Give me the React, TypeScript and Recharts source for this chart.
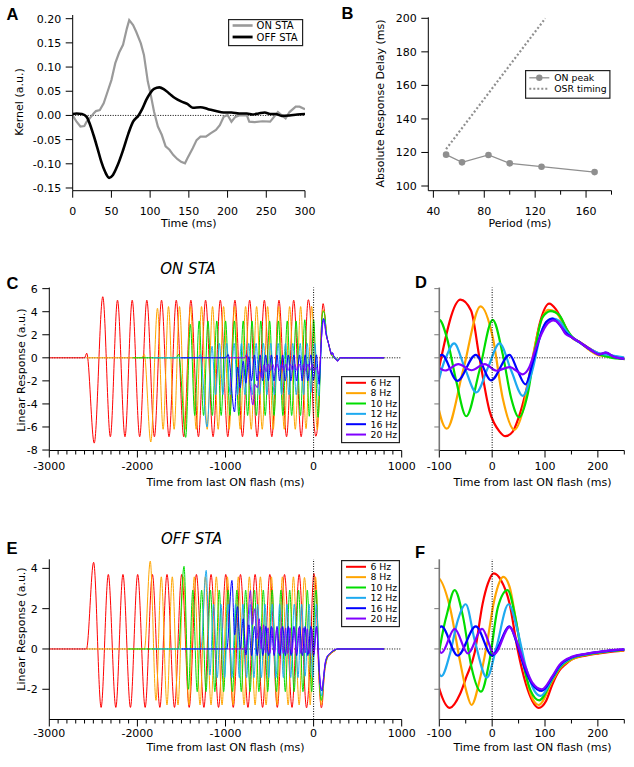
import React from 'react';
import { LineChart, Line, XAxis, YAxis, ReferenceLine, Legend } from 'recharts';

const W = 634;
const H = 767;
const FONT = '"DejaVu Sans", Verdana, sans-serif';

type P = [number, number];

// ---------- Panel A : kernels ----------
const aTimeTicks = [0, 50, 100, 150, 200, 250, 300];
const aKernelTicks = [-0.15, -0.1, -0.05, 0, 0.05, 0.1, 0.15, 0.2];
const onSTA: P[] = [
  [0, 0], [5, -0.013], [10, -0.023], [15, -0.022], [18, -0.013], [22, -0.006], [27, 0.004], [30, 0.009],
  [35, 0.011], [40, 0.025], [45, 0.049], [50, 0.073], [55, 0.108], [60, 0.13], [65, 0.146], [70, 0.18],
  [73, 0.197], [78, 0.187], [82, 0.173], [88, 0.149], [92, 0.125], [97, 0.07], [100, 0.049], [105, 0.008],
  [110, -0.023], [115, -0.04], [120, -0.064], [125, -0.071], [130, -0.082], [135, -0.09], [140, -0.096],
  [145, -0.099], [148, -0.089], [155, -0.068], [160, -0.051], [165, -0.044], [172, -0.044], [178, -0.037],
  [185, -0.03], [190, -0.02], [195, -0.003], [200, 0.001], [205, -0.013], [210, -0.003], [215, 0], [225, 0],
  [228, -0.013], [235, -0.014], [245, -0.012], [255, -0.013], [260, -0.003], [265, 0.007], [270, 0],
  [275, -0.006], [280, 0.007], [288, 0.018], [293, 0.018], [300, 0.013],
];
const offSTA: P[] = [
  [0, 0.003], [5, 0.004], [12, 0.003], [18, -0.003], [22, -0.017], [27, -0.041], [32, -0.068], [37, -0.096],
  [42, -0.117], [47, -0.129], [52, -0.123], [58, -0.103], [65, -0.072], [72, -0.037], [78, -0.013], [85, 0],
  [90, 0.014], [95, 0.032], [100, 0.046], [105, 0.055], [112, 0.058], [118, 0.054], [125, 0.045], [132, 0.036],
  [140, 0.029], [148, 0.024], [155, 0.016], [165, 0.017], [175, 0.013], [185, 0.009], [195, 0.006],
  [205, 0.006], [215, 0.004], [225, 0.004], [232, 0.002], [240, 0.004], [248, 0.006], [255, 0.003],
  [262, 0.003], [270, -0.001], [280, 0], [290, 0.002], [300, 0.003],
];

// ---------- Panel B : delays ----------
const bPeriodMajor = [40, 80, 120, 160];
const bPeriodTicks = [40, 60, 80, 100, 120, 140, 160, 180];
const bDelayTicks = [100, 120, 140, 160, 180, 200];
const onPeak: P[] = [[50, 118.7], [62.5, 114.1], [83.3, 118.5], [100, 113.5], [125, 111.5], [166.7, 108.3]];
const osrTiming: P[] = [[50, 122], [128, 200]];

// ---------- Panels C-F ----------
const freqLabels = ['6 Hz', '8 Hz', '10 Hz', '12 Hz', '16 Hz', '20 Hz'];
const freqColors = ['#ff0000', '#ffa500', '#00dd00', '#1eaaf0', '#0000ff', '#8000ff'];
const longMajor = [-3000, -2000, -1000, 0, 1000];
const longTicks = Array.from({ length: 41 }, (_, i) => -3000 + i * 100);
const shortMajor = [-100, 0, 100, 200];
const shortTicks = [-100, -50, 0, 50, 100, 150, 200, 250];
const onYTicks = [-8, -6, -4, -2, 0, 2, 4, 6];
const offYTicks = [-2, 0, 2, 4];

const on6: P[] = [
  [-3000, 0], [-2600, 0], [-2575, 0.4], [-2490, -7.4], [-2393, 5.3], [-2307, -6.85], [-2226, 5.0], [-2141, -6.85],
  [-2059, 5.0], [-1974, -6.85], [-1893, 5.0], [-1807, -6.85], [-1726, 5.0], [-1641, -6.85], [-1559, 5.0],
  [-1474, -6.85], [-1393, 5.0], [-1307, -6.85], [-1226, 5.0], [-1141, -6.85], [-1059, 5.0], [-974, -6.85],
  [-893, 5.0], [-807, -6.85], [-726, 5.0], [-641, -6.85], [-559, 5.0], [-474, -6.85], [-393, 5.0], [-307, -6.85],
  [-226, 5.0], [-141, -6.85], [-60, 5.04], [-40, 4.1], [-24, 0], [-5, -4.6], [14, -6.4], [25, -6.8], [39, -6.4],
  [50, -5.2], [64, -2.9], [76, -0.3], [89, 2.8], [108, 4.7], [120, 4.25], [133, 3.2], [150, 1.8], [167, 1.34],
  [186, 0.76], [202, 0.38], [227, 0.17], [248, 0], [275, -0.2], [300, 0], [800, 0],
];
const on8: P[] = [
  [-2580, 0], [-1950, 0], [-1922, 0.3], [-1848, -7.3], [-1772, 4.3], [-1708, -6.2], [-1647, 4.45], [-1583, -6.2],
  [-1522, 4.45], [-1458, -6.2], [-1397, 4.45], [-1333, -6.2], [-1272, 4.45], [-1208, -6.2], [-1147, 4.45],
  [-1083, -6.2], [-1022, 4.45], [-958, -6.2], [-897, 4.45], [-833, -6.2], [-772, 4.45], [-708, -6.2], [-647, 4.45],
  [-583, -6.2], [-522, 4.45], [-458, -6.2], [-397, 4.45], [-333, -6.2], [-272, 4.45], [-208, -6.2], [-147, 4.45],
  [-86, -6.15], [-55, -1.1], [-22, 4.46], [1, 1.8], [20, -3.5], [42, -6.24], [58, -4.6], [73, -0.85], [89, 2.65],
  [106, 4.17], [120, 3.97], [133, 3.1], [150, 1.8], [167, 1.3], [186, 0.6], [202, 0.2], [227, 0.1], [248, -0.1],
  [275, -0.2], [300, 0], [800, 0],
];
const on10: P[] = [
  [-2050, 0], [-1560, 0], [-1532, 0.3], [-1452, -6.9], [-1399, 2.9], [-1349, -5.0], [-1299, 3.2], [-1249, -5.0],
  [-1199, 3.2], [-1149, -5.0], [-1099, 3.2], [-1049, -5.0], [-999, 3.2], [-949, -5.0], [-899, 3.2], [-849, -5.0],
  [-799, 3.2], [-749, -5.0], [-699, 3.2], [-649, -5.0], [-599, 3.2], [-549, -5.0], [-499, 3.2], [-449, -5.0],
  [-399, 3.2], [-349, -5.0], [-299, 3.2], [-249, -5.0], [-199, 3.2], [-149, -5.0], [-100, 3.3], [-86, 1.8],
  [-68, -2.0], [-49, -5.07], [-24, -1.1], [1, 3.3], [20, 0.3], [36, -3.5], [51, -5.16], [67, -3.2], [83, 1.2],
  [95, 3.5], [111, 4.05], [127, 3.7], [142, 2.4], [150, 1.9], [167, 1.3], [186, 0.7], [202, 0.3], [227, 0],
  [248, -0.1], [275, -0.2], [300, 0], [800, 0],
];
const on12: P[] = [
  [-1820, 0], [-1310, 0], [-1285, 0.3], [-1210, -6.0], [-1153, 1.0], [-1113, -3.2], [-1069, 1.25], [-1030, -3.2],
  [-986, 1.25], [-947, -3.2], [-902, 1.25], [-863, -3.2], [-819, 1.25], [-780, -3.2], [-736, 1.25], [-697, -3.2],
  [-652, 1.25], [-613, -3.2], [-569, 1.25], [-530, -3.2], [-486, 1.25], [-447, -3.2], [-402, 1.25], [-363, -3.2],
  [-319, 1.25], [-280, -3.2], [-236, 1.25], [-197, -3.2], [-152, 1.25], [-113, -3.2], [-90, -0.26], [-72, 1.25],
  [-52, -0.85], [-30, -3.0], [-8, -0.85], [14, 1.25], [36, -1.1], [58, -3.3], [76, -1.1], [95, 2.5], [114, 3.4],
  [127, 3.2], [139, 2.4], [150, 1.8], [167, 1.3], [186, 0.75], [202, 0.4], [227, 0.2], [248, 0.05], [275, -0.2],
  [300, 0], [800, 0],
];
const on16: P[] = [
  [-1510, 0], [-995, 0], [-970, 0.3], [-898, -4.7], [-863, -0.8], [-834, -2.6], [-799, -0.3], [-770, -2.2],
  [-735, 0.1], [-706, -2.0], [-671, 0.25], [-642, -2.0], [-607, 0.25], [-578, -2.0], [-543, 0.25], [-514, -2.0],
  [-479, 0.25], [-450, -2.0], [-415, 0.25], [-386, -2.0], [-351, 0.25], [-322, -2.0], [-287, 0.25], [-258, -2.0],
  [-223, 0.25], [-194, -2.0], [-159, 0.25], [-130, -2.0], [-95, 0.26], [-66, -2.0], [-31, 0.26], [-2, -1.95],
  [33, 0.26], [48, -1.1], [63, -2.3], [76, -0.55], [92, 2.07], [102, 3.1], [114, 3.4], [127, 2.9], [139, 2.2],
  [150, 1.8], [167, 1.3], [186, 0.7], [202, 0.3], [215, 0.45], [230, 0.1], [250, -0.1], [275, -0.3], [300, 0],
  [800, 0],
];
const on20: P[] = [
  [-975, 0], [-785, 0], [-760, 0.3], [-689, -4.1], [-664, -2.3], [-639, -2.6], [-614, -1.2], [-589, -1.7],
  [-564, -0.6], [-539, -1.2], [-514, -0.55], [-489, -1.1], [-464, -0.55], [-439, -1.1], [-414, -0.55],
  [-389, -1.1], [-364, -0.55], [-339, -1.1], [-314, -0.55], [-289, -1.1], [-264, -0.55], [-239, -1.1],
  [-214, -0.55], [-189, -1.1], [-164, -0.55], [-139, -1.1], [-114, -0.55], [-89, -1.1], [-64, -0.55],
  [-39, -1.08], [-14, -0.55], [8, -1.12], [33, -0.8], [58, -1.43], [70, -0.85], [83, 0.9], [102, 2.8],
  [116, 3.24], [127, 2.95], [139, 2.07], [150, 1.8], [167, 1.3], [186, 0.7], [202, 0.3], [215, 0.45],
  [230, 0.1], [250, -0.1], [270, -0.3], [285, -0.2], [300, 0], [800, 0],
];

const off6: P[] = [
  [-3000, 0], [-2578, 0], [-2497, 4.3], [-2412, -2.9], [-2330, 3.7], [-2245, -2.9], [-2164, 3.7], [-2079, -2.9],
  [-1997, 3.7], [-1912, -2.9], [-1830, 3.7], [-1745, -2.9], [-1664, 3.7], [-1579, -2.9], [-1497, 3.7],
  [-1412, -2.9], [-1330, 3.7], [-1245, -2.9], [-1164, 3.7], [-1079, -2.9], [-997, 3.7], [-912, -2.9],
  [-830, 3.7], [-745, -2.9], [-664, 3.7], [-579, -2.9], [-497, 3.7], [-412, -2.9], [-330, 3.7], [-245, -2.9],
  [-164, 3.7], [-80, -2.92], [-61, -2.25], [-49, -1.4], [-33, -0.17], [-18, 2.25], [-8, 3.25], [3, 3.75],
  [17, 3.4], [33, 2.25], [48, 0], [64, -1.75], [76, -2.58], [88, -2.92], [102, -2.58], [114, -1.75],
  [127, -1.08], [139, -0.75], [152, -0.5], [177, -0.33], [202, -0.22], [227, -0.13], [248, -0.08], [270, 0],
  [800, 0],
];
const off8: P[] = [
  [-2580, 0], [-1920, 0], [-1854, 4.36], [-1789, -2.55], [-1729, 3.58], [-1664, -2.78], [-1604, 3.58],
  [-1539, -2.78], [-1479, 3.58], [-1414, -2.78], [-1354, 3.58], [-1289, -2.78], [-1229, 3.58], [-1164, -2.78],
  [-1104, 3.58], [-1039, -2.78], [-979, 3.58], [-914, -2.78], [-854, 3.58], [-789, -2.78], [-729, 3.58],
  [-664, -2.78], [-604, 3.58], [-539, -2.78], [-479, 3.58], [-414, -2.78], [-354, 3.58], [-289, -2.78],
  [-229, 3.58], [-164, -2.78], [-104, 3.55], [-80, 2.08], [-61, -0.58], [-49, -2.08], [-39, -2.78],
  [-24, -1.58], [-11, 0.08], [4, 2.42], [14, 3.33], [21, 3.58], [33, 3.08], [45, 1.42], [58, -0.58],
  [73, -2.25], [88, -2.78], [114, -1.58], [127, -1.0], [152, -0.5], [177, -0.3], [202, -0.2], [227, -0.1],
  [248, -0.07], [270, 0], [800, 0],
];
const off10: P[] = [
  [-2110, 0], [-1535, 0], [-1471, 4.1], [-1421, -2.0], [-1371, 2.92], [-1321, -2.12], [-1271, 2.92],
  [-1221, -2.12], [-1171, 2.92], [-1121, -2.12], [-1071, 2.92], [-1021, -2.12], [-971, 2.92], [-921, -2.12],
  [-871, 2.92], [-821, -2.12], [-771, 2.92], [-721, -2.12], [-671, 2.92], [-621, -2.12], [-571, 2.92],
  [-521, -2.12], [-471, 2.92], [-421, -2.12], [-371, 2.92], [-321, -2.12], [-271, 2.92], [-221, -2.12],
  [-171, 2.92], [-121, -2.12], [-87, 1.58], [-71, 2.92], [-55, 1.58], [-39, -0.92], [-21, -2.12], [-5, -0.58],
  [11, 2.08], [29, 2.92], [45, 1.42], [58, -0.58], [73, -2.08], [89, -2.55], [114, -1.5], [127, -0.95],
  [152, -0.45], [177, -0.28], [202, -0.18], [227, -0.1], [248, -0.05], [270, 0], [800, 0],
];
const off12: P[] = [
  [-1820, 0], [-1280, 0], [-1219, 3.9], [-1177, -1.3], [-1136, 2.22], [-1093, -1.42], [-1052, 2.22],
  [-1010, -1.42], [-969, 2.22], [-927, -1.42], [-885, 2.22], [-843, -1.42], [-802, 2.22], [-760, -1.42],
  [-719, 2.22], [-677, -1.42], [-635, 2.22], [-593, -1.42], [-552, 2.22], [-510, -1.42], [-469, 2.22],
  [-427, -1.42], [-385, 2.22], [-343, -1.42], [-302, 2.22], [-260, -1.42], [-219, 2.22], [-177, -1.42],
  [-135, 2.22], [-96, -1.35], [-80, -0.25], [-65, 1.42], [-50, 2.22], [-33, 0.42], [-10, -1.42], [8, 0.08],
  [31, 2.22], [48, 0.92], [64, -0.92], [80, -2.08], [92, -2.33], [114, -1.45], [127, -0.9], [152, -0.42],
  [177, -0.27], [202, -0.16], [227, -0.08], [248, -0.04], [270, 0], [800, 0],
];
const off16: P[] = [
  [-1500, 0], [-985, 0], [-927, 3.4], [-896, 0.7], [-863, 2.1], [-832, 0.0], [-799, 1.5], [-768, -0.3],
  [-735, 1.2], [-704, -0.33], [-671, 1.12], [-640, -0.33], [-607, 1.12], [-576, -0.33], [-543, 1.12],
  [-512, -0.33], [-479, 1.12], [-448, -0.33], [-415, 1.12], [-384, -0.33], [-351, 1.12], [-320, -0.33],
  [-287, 1.12], [-256, -0.33], [-223, 1.12], [-192, -0.33], [-159, 1.12], [-128, -0.33], [-96, 1.12],
  [-65, -0.33], [-31, 1.12], [0, -0.33], [33, 1.12], [45, 0.42], [61, -0.92], [76, -1.75], [94, -2.08],
  [114, -1.4], [127, -0.85], [152, -0.4], [177, -0.25], [202, -0.15], [227, -0.07], [248, -0.03], [270, 0],
  [800, 0],
];
const off20: P[] = [
  [-975, 0], [-770, 0], [-717, 2.9], [-696, 1.2], [-667, 2.0], [-646, 0.5], [-617, 1.5], [-596, 0.0],
  [-567, 1.2], [-546, -0.2], [-517, 1.05], [-496, -0.22], [-467, 1.05], [-446, -0.22], [-417, 1.05],
  [-396, -0.22], [-367, 1.05], [-346, -0.22], [-317, 1.05], [-296, -0.22], [-267, 1.05], [-246, -0.22],
  [-217, 1.05], [-196, -0.22], [-167, 1.05], [-146, -0.22], [-117, 1.05], [-96, -0.2], [-71, 1.0],
  [-46, -0.22], [-19, 1.0], [4, -0.25], [33, 1.08], [45, 0.5], [61, -0.75], [76, -1.67], [94, -2.0],
  [114, -1.35], [127, -0.8], [152, -0.38], [177, -0.24], [202, -0.14], [227, -0.06], [248, -0.02], [270, 0],
  [800, 0],
];

const onSeries = [on6, on8, on10, on12, on16, on20];
const offSeries = [off6, off8, off10, off12, off16, off20];

const toData = (pts: P[]) => pts.map(([t, v]) => ({ t, v }));

type Box = { l: number; r: number; t: number; b: number };
const boxA: Box = { l: 72.7, r: 305, t: 15, b: 190.7 };
const boxB: Box = { l: 428.3, r: 611.5, t: 17.3, b: 190.7 };
const boxC: Box = { l: 49.3, r: 401.7, t: 287.5, b: 450.5 };
const boxD: Box = { l: 439.3, r: 624.3, t: 287.5, b: 450.5 };
const boxE: Box = { l: 49.3, r: 401.7, t: 559.3, b: 719.5 };
const boxF: Box = { l: 439.3, r: 624.3, t: 559.3, b: 719.5 };

const marginOf = (b: Box) => ({ top: b.t, left: b.l - 10, right: W - b.r, bottom: H - b.b - 10 });

const near = (arr: number[], v: number) => arr.some((m) => Math.abs(m - v) < 1e-9);

const mkXTick = (majors: number[], fmt: (v: number) => string, labelDy: number, showLabels = true, color = '#000') =>
  (props: any) => {
    const { x, y, payload } = props;
    const v = payload.value as number;
    const isMajor = near(majors, v);
    return (
      <g>
        <line x1={x} x2={x} y1={y} y2={y + (isMajor ? 7 : 4)} stroke={color} strokeWidth={1} />
        {isMajor && showLabels ? (
          <text x={x} y={y + labelDy} textAnchor="middle" fontSize={11} fontFamily={FONT} fill="#000">
            {fmt(v)}
          </text>
        ) : null}
      </g>
    );
  };

const mkYTick = (fmt: (v: number) => string, showLabels = true, len = 7, color = '#000') => (props: any) => {
  const { x, y, payload } = props;
  return (
    <g>
      <line x1={x} x2={x - len} y1={y} y2={y} stroke={color} strokeWidth={1} />
      {showLabels ? (
        <text x={x - 11.5} y={y} dy="0.36em" textAnchor="end" fontSize={11} fontFamily={FONT} fill="#000">
          {fmt(payload.value)}
        </text>
      ) : null}
    </g>
  );
};

const fmtInt = (v: number) => String(v);
const fmt2 = (v: number) => v.toFixed(2);

const legendProps = { layout: 'vertical' as const, align: 'center' as const, verticalAlign: 'middle' as const };

function FreqLegend() {
  return (
    <svg width={60} height={68} style={{ display: 'block' }}>
      <rect x={0.6} y={0.6} width={57.8} height={66} fill="#fff" stroke="#222" strokeWidth={1.2} />
      {freqLabels.map((lab, i) => {
        const cy = 6.8 + i * 10.35;
        return (
          <g key={lab}>
            <line x1={5} x2={25} y1={cy} y2={cy} stroke={freqColors[i]} strokeWidth={2} />
            <text x={29.5} y={cy} dy="0.36em" fontSize={9.3} fontFamily={FONT} fill="#000">
              {lab}
            </text>
          </g>
        );
      })}
    </svg>
  );
}

function KernelLegend() {
  return (
    <svg width={76} height={28} style={{ display: 'block' }}>
      <rect x={0.6} y={0.6} width={74} height={26} fill="#fff" stroke="#222" strokeWidth={1.2} />
      <line x1={4.6} x2={24.6} y1={6.5} y2={6.5} stroke="#9a9a9a" strokeWidth={2.6} />
      <text x={28.6} y={6.5} dy="0.36em" fontSize={10} fontFamily={FONT}>ON STA</text>
      <line x1={4.6} x2={24.6} y1={18} y2={18} stroke="#000" strokeWidth={2.8} />
      <text x={28.6} y={18} dy="0.36em" fontSize={10} fontFamily={FONT}>OFF STA</text>
    </svg>
  );
}

function DelayLegend() {
  return (
    <svg width={86} height={30} style={{ display: 'block' }}>
      <rect x={0.6} y={0.6} width={84.3} height={27.6} fill="#fff" stroke="#222" strokeWidth={1.2} />
      <line x1={4.3} x2={24.3} y1={7.8} y2={7.8} stroke="#8f8f8f" strokeWidth={1.3} />
      <circle cx={14.3} cy={7.8} r={3.2} fill="#8f8f8f" />
      <text x={29.3} y={7.8} dy="0.36em" fontSize={9.3} fontFamily={FONT}>ON peak</text>
      <line x1={4.3} x2={24.3} y1={18.8} y2={18.8} stroke="#8f8f8f" strokeWidth={2} strokeDasharray="2 2" />
      <text x={29.3} y={18.8} dy="0.36em" fontSize={9.3} fontFamily={FONT}>OSR timing</text>
    </svg>
  );
}

const layer: React.CSSProperties = { position: 'absolute', left: 0, top: 0 };

function PanelA() {
  return (
    <div style={layer}>
      <LineChart width={W} height={H} margin={marginOf(boxA)}>
        <XAxis dataKey="t" type="number" domain={[0, 300]} ticks={aTimeTicks} interval={0} height={10}
          tickSize={0} tickMargin={0} tick={mkXTick(aTimeTicks, fmtInt, 24)} stroke="#000" allowDataOverflow />
        <YAxis type="number" domain={[-0.1556, 0.2076]} ticks={aKernelTicks} interval={0} width={10}
          tickSize={0} tickMargin={0} tick={mkYTick(fmt2)} stroke="#000" allowDataOverflow />
        <ReferenceLine y={0} stroke="#000" strokeDasharray="1 1.5" strokeWidth={1} />
        <Line data={toData(onSTA)} dataKey="v" type="linear" stroke="#9a9a9a" strokeWidth={2.2} dot={false}
          activeDot={false} isAnimationActive={false} />
        <Line data={toData(offSTA)} dataKey="v" type="monotone" stroke="#000" strokeWidth={2.6} dot={false}
          activeDot={false} isAnimationActive={false} />
        <Legend {...legendProps} wrapperStyle={{ left: 228.1, top: 19.4, width: 76, height: 28 }}
          content={() => <KernelLegend />} />
      </LineChart>
    </div>
  );
}

function PanelB() {
  return (
    <div style={layer}>
      <LineChart width={W} height={H} margin={marginOf(boxB)}>
        <XAxis dataKey="t" type="number" domain={[36, 180]} ticks={bPeriodTicks} interval={0} height={10}
          tickSize={0} tickMargin={0} tick={mkXTick(bPeriodMajor, fmtInt, 24)} stroke="#000" allowDataOverflow />
        <YAxis type="number" domain={[97.2, 200.6]} ticks={bDelayTicks} interval={0} width={10}
          tickSize={0} tickMargin={0} tick={mkYTick(fmtInt)} stroke="#000" allowDataOverflow />
        <Line data={toData(osrTiming)} dataKey="v" type="linear" stroke="#8f8f8f" strokeWidth={2.2}
          strokeDasharray="2 2.2" dot={false} activeDot={false} isAnimationActive={false} />
        <Line data={toData(onPeak)} dataKey="v" type="linear" stroke="#8f8f8f" strokeWidth={1.2}
          dot={{ r: 3.3, fill: '#8f8f8f', stroke: '#8f8f8f', strokeWidth: 0 }} activeDot={false}
          isAnimationActive={false} />
        <Legend {...legendProps} wrapperStyle={{ left: 525.1, top: 70.1, width: 86, height: 30 }}
          content={() => <DelayLegend />} />
      </LineChart>
    </div>
  );
}

function StaPanel({ box, series, xDomain, xTicks, xMajors, yDomain, yTicks, showYLabels, strokeW, legendPos, yColor, tickDy }: any) {
  return (
    <div style={layer}>
      <LineChart width={W} height={H} margin={marginOf(box)}>
        <XAxis dataKey="t" type="number" domain={xDomain} ticks={xTicks} interval={0} height={10}
          tickSize={0} tickMargin={0} tick={mkXTick(xMajors, fmtInt, tickDy)} stroke="#000" allowDataOverflow />
        <YAxis type="number" domain={yDomain} ticks={yTicks} interval={0} width={10}
          tickSize={0} tickMargin={0} tick={mkYTick(fmtInt, showYLabels, showYLabels ? 7 : 5, yColor)}
          stroke={yColor} strokeWidth={showYLabels ? 1 : 1.6} allowDataOverflow />
        <ReferenceLine y={0} stroke="#000" strokeDasharray="1 1.5" strokeWidth={1} />
        {series.map((pts: P[], i: number) => (
          <Line key={freqLabels[i]} data={toData(pts)} dataKey="v" type="monotone" stroke={freqColors[i]}
            strokeWidth={strokeW} dot={false} activeDot={false} isAnimationActive={false} />
        ))}
        <ReferenceLine x={0} stroke="#000" strokeDasharray="1 1.5" strokeWidth={1} />
        {legendPos ? (
          <Legend {...legendProps} wrapperStyle={{ left: legendPos[0], top: legendPos[1], width: 60, height: 68 }}
            content={() => <FreqLegend />} />
        ) : null}
      </LineChart>
    </div>
  );
}

function Overlay() {
  const letter = { fontFamily: '"Liberation Sans", Arial, sans-serif', fontWeight: 900, fontSize: 16.5, fill: '#000' } as const;
  const axisT = { fontFamily: FONT, fontSize: 11, fill: '#000' } as const;
  return (
    <svg width={W} height={H} style={{ ...layer, pointerEvents: 'none' }}>
      <text x={6.5} y={20} {...letter}>A</text>
      <text x={341.5} y={18.5} {...letter}>B</text>
      <text x={6.5} y={288.5} {...letter}>C</text>
      <text x={415} y={287.5} {...letter}>D</text>
      <text x={6.5} y={553.5} {...letter}>E</text>
      <text x={415} y={558} {...letter}>F</text>

      <text x={188} y={274} textAnchor="middle" fontFamily={FONT} fontStyle="italic" fontSize={15}>ON STA</text>
      <text x={191.7} y={544} textAnchor="middle" fontFamily={FONT} fontStyle="italic" fontSize={15}>OFF STA</text>

      <text x={188.8} y={227} textAnchor="middle" {...axisT}>Time (ms)</text>
      <text x={519.9} y={227} textAnchor="middle" {...axisT}>Period (ms)</text>
      <text x={225.5} y={486} textAnchor="middle" {...axisT}>Time from last ON flash (ms)</text>
      <text x={532.5} y={486} textAnchor="middle" {...axisT}>Time from last ON flash (ms)</text>
      <text x={225.5} y={750.5} textAnchor="middle" {...axisT}>Time from last ON flash (ms)</text>
      <text x={532.5} y={750.5} textAnchor="middle" {...axisT}>Time from last ON flash (ms)</text>

      <text x={22.5} y={102} textAnchor="middle" transform="rotate(-90 22.5 102)" {...axisT}>Kernel (a.u.)</text>
      <text x={383.5} y={103.5} textAnchor="middle" transform="rotate(-90 383.5 103.5)" {...axisT}>Absolute Response Delay (ms)</text>
      <text x={24.5} y={370} textAnchor="middle" transform="rotate(-90 24.5 370)" {...axisT}>Linear Response (a.u.)</text>
      <text x={24.5} y={629} textAnchor="middle" transform="rotate(-90 24.5 629)" {...axisT}>Linear Response (a.u.)</text>
    </svg>
  );
}

export default function App() {
  return (
    <div style={{ position: 'absolute', left: 0, top: 0, width: W, height: H, background: '#fff' }}>
      <PanelA />
      <PanelB />
      <StaPanel box={boxC} series={onSeries} xDomain={[-3000, 1000]} xTicks={longTicks} xMajors={longMajor}
        yDomain={[-8.04, 6.1]} yTicks={onYTicks} showYLabels strokeW={1} legendPos={[341.1, 376.1]} yColor="#000" tickDy={19.5} />
      <StaPanel box={boxD} series={onSeries} xDomain={[-100, 250]} xTicks={shortTicks} xMajors={shortMajor}
        yDomain={[-8.04, 6.1]} yTicks={onYTicks} showYLabels={false} strokeW={2.2} legendPos={null} yColor="#777" tickDy={19.5} />
      <StaPanel box={boxE} series={offSeries} xDomain={[-3000, 1000]} xTicks={longTicks} xMajors={longMajor}
        yDomain={[-3.5, 4.45]} yTicks={offYTicks} showYLabels strokeW={1} legendPos={[341.1, 560.1]} yColor="#000" tickDy={17} />
      <StaPanel box={boxF} series={offSeries} xDomain={[-100, 250]} xTicks={shortTicks} xMajors={shortMajor}
        yDomain={[-3.5, 4.45]} yTicks={offYTicks} showYLabels={false} strokeW={2.2} legendPos={null} yColor="#777" tickDy={17} />
      <Overlay />
    </div>
  );
}
